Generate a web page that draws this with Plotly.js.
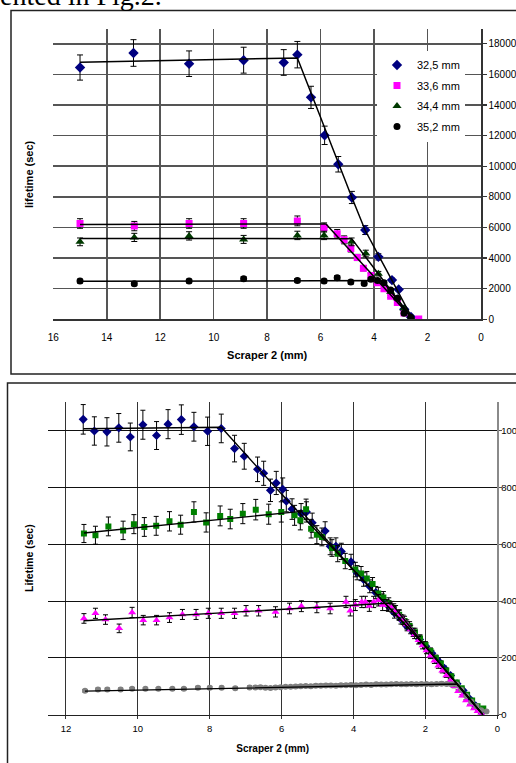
<!DOCTYPE html>
<html><head><meta charset="utf-8">
<script src="https://cdn.plot.ly/plotly-3.0.1.min.js"></script>
<style>html,body{margin:0;padding:0;background:#fff;}#chart{width:516px;height:763px;}</style>
</head><body><div id="chart"></div>
<script>
// ---------- Chart 1 (top) ----------
const legendNames = ['32,5 mm', '33,6 mm', '34,4 mm', '35,2 mm'];
const xTitle = 'Scraper 2 (mm)';
const yTitle1 = 'lifetime (sec)';
const yTitle2 = 'Lifetime (sec)';
const pageText = 'ented in Fig.2.';

const blue1X = [15, 13, 10.92, 8.88, 7.38, 6.87, 6.36, 5.85, 5.34, 4.83, 4.33, 3.84, 3.33, 3.08, 2.87, 2.62];
const blue1Y = [16450, 17400, 16700, 16930, 16780, 17290, 14500, 12020, 10130, 7960, 5830, 4080, 2560, 1950, 650, 150];
const pink1X = [15, 12.97, 10.92, 8.88, 6.87, 5.87, 5.38, 5.12, 4.87, 4.63, 4.40, 4.12, 3.88, 3.63, 3.38, 3.13, 2.88, 2.33];
const pink1Y = [6260, 6090, 6260, 6260, 6430, 6000, 5590, 5190, 4630, 4040, 3330, 2860, 2390, 2000, 1500, 1100, 410, 20];
const green1X = [15, 12.97, 10.92, 8.88, 6.87, 5.87, 4.84, 4.31, 3.84, 3.38, 3.13, 2.88, 2.60];
const green1Y = [5060, 5350, 5450, 5220, 5480, 5480, 5060, 4300, 2980, 1800, 1370, 700, 50];
const black1X = [15, 12.97, 10.92, 8.88, 6.87, 5.87, 5.38, 4.87, 4.37, 4.12, 3.87, 3.63, 3.38, 3.13, 2.88, 2.63];
const black1Y = [2500, 2320, 2500, 2650, 2540, 2500, 2720, 2430, 2340, 2610, 2540, 2390, 1910, 1370, 400, 130];

const fitBlue1X = [15, 6.87, 4.83, 4.33, 2.55];
const fitBlue1Y = [16800, 17080, 7960, 5800, 0];
const fitPink1X = [15, 5.80, 2.55];
const fitPink1Y = [6200, 6230, 0];
const fitGreen1X = [15, 4.84, 2.55];
const fitGreen1Y = [5280, 5270, 0];
const fitBlack1X = [15, 3.70, 2.55];
const fitBlack1Y = [2480, 2530, 0];

// ---------- Chart 2 (bottom) ----------
const blue2X = [11.52, 11.21, 10.86, 10.53, 10.21, 9.86, 9.48, 9.16, 8.79, 8.44, 8.06, 7.68, 7.31, 7.04, 6.67, 6.50, 6.31, 6.15, 5.97, 5.87, 5.71, 5.46, 5.31, 5.15, 4.79, 4.65, 4.49, 4.34, 4.07, 3.90, 3.72, 3.55, 3.38, 3.20, 3.03, 2.86, 2.68, 2.51, 2.34, 2.16, 1.99, 1.82, 1.64, 1.47, 1.30, 1.12, 0.95, 0.78, 0.60, 0.43];
const blue2Y = [1040, 999, 996, 1010, 978, 1021, 983, 1023, 1039, 1014, 998, 1008, 937, 910, 864, 850, 790, 816, 794, 752, 724, 708, 714, 676, 647, 593, 593, 575, 538, 500, 476, 452, 430, 405, 383, 358, 336, 311, 290, 265, 241, 216, 189, 163, 138, 109, 85, 57, 31, 7];
const green2X = [11.50, 11.18, 10.82, 10.41, 10.11, 9.82, 9.49, 9.12, 8.81, 8.44, 8.10, 7.71, 7.43, 7.08, 6.72, 6.36, 6.01, 5.64, 5.48, 5.32, 5.18, 5.02, 4.88, 4.60, 4.44, 4.23, 3.95, 3.79, 3.63, 3.47, 3.31, 3.17, 3.02, 2.88, 2.73, 2.58, 2.44, 2.29, 2.15, 2.00, 1.86, 1.71, 1.57, 1.42, 1.28, 1.13, 0.99, 0.84, 0.70, 0.55, 0.39];
const green2Y = [638, 632, 663, 649, 671, 661, 665, 681, 669, 714, 677, 700, 689, 708, 722, 706, 714, 702, 685, 723, 655, 634, 626, 587, 567, 541, 511, 497, 480, 460, 427, 413, 392, 372, 352, 330, 312, 290, 268, 245, 224, 200, 180, 156, 135, 113, 93, 70, 50, 30, 22];
const pink2X = [11.50, 11.18, 10.90, 10.52, 10.16, 9.85, 9.48, 9.12, 8.76, 8.38, 8.04, 7.68, 7.31, 6.99, 6.64, 6.17, 5.78, 5.45, 5.02, 4.65, 4.21, 4.09, 3.95, 3.77, 3.67, 3.56, 3.44, 3.31, 3.19, 3.07, 2.93, 2.83, 2.73, 2.62, 2.52, 2.41, 2.30, 2.19, 2.08, 1.97, 1.86, 1.75, 1.64, 1.53, 1.42, 1.31, 1.20, 1.09, 0.98, 0.87, 0.76, 0.65, 0.55, 0.45];
const pink2Y = [339, 357, 335, 304, 360, 333, 333, 342, 353, 353, 357, 357, 357, 366, 366, 362, 374, 382, 378, 374, 397, 366, 386, 397, 397, 383, 397, 403, 386, 386, 380, 366, 350, 334, 318, 300, 282, 262, 244, 226, 208, 190, 172, 155, 138, 120, 100, 83, 67, 50, 35, 22, 12, 5];
const gray2X = [11.47, 11.11, 10.85, 10.48, 10.16, 9.79, 9.43, 9.04, 8.72, 8.33, 8.00, 7.67, 7.29, 6.89, 6.73, 6.59, 6.45, 6.31, 6.17, 6.03, 5.89, 5.75, 5.61, 5.47, 5.33, 5.19, 5.05, 4.91, 4.77, 4.63, 4.49, 4.35, 4.21, 4.07, 3.93, 3.79, 3.65, 3.51, 3.37, 3.23, 3.09, 2.95, 2.81, 2.67, 2.53, 2.39, 2.25, 2.11, 1.97, 1.83, 1.69, 1.55, 1.41, 1.27, 1.13, 1.00, 0.86, 0.72, 0.58, 0.45, 0.30];
const gray2Y = [84, 89, 89, 89, 91, 91, 91, 91, 91, 95, 95, 95, 93, 96, 96, 97, 95, 94, 96, 97, 98, 98, 99, 100, 101, 100, 102, 102, 103, 103, 102, 104, 104, 105, 104, 105, 106, 105, 107, 106, 106, 107, 108, 107, 107, 108, 107, 108, 108, 107, 108, 109, 108, 107, 106, 88, 66, 46, 30, 16, 11];

const fitBlue2X = [11.52, 7.68, 5.99, 4.00, 2.06, 1.13, 0.40];
const fitBlue2Y = [1007, 1012, 775, 510, 250, 110, 0];
const fitGreen2X = [11.50, 5.45, 4.00, 2.06, 1.13, 0.40];
const fitGreen2Y = [640, 716, 510, 250, 110, 0];
const fitPink2X = [11.50, 2.95, 2.06, 1.13, 0.40];
const fitPink2Y = [331, 393, 250, 110, 0];
const fitGray2X = [11.47, 1.13, 0.40];
const fitGray2Y = [83, 108, 0];

// ---------- helpers ----------
const W = 516, H = 763;
const px = v => v / W;
const py = v => 1 - v / H;
const FONT = 'Liberation Sans, Arial, sans-serif';

function pts(x, y, name, color, symbol, size, xa, ya, show, cap) {
  return {
    type: 'scatter', mode: 'markers', x: x, y: y, name: name,
    xaxis: xa, yaxis: ya, showlegend: show, legendgroup: name,
    marker: {color: color, symbol: symbol, size: size, line: {width: 0}},
    error_y: {type: 'percent', value: 5, color: '#000', thickness: 1, width: cap},
    hoverinfo: 'skip'
  };
}
function fit(x, y, xa, ya, w) {
  return {
    type: 'scatter', mode: 'lines', x: x, y: y, xaxis: xa, yaxis: ya,
    showlegend: false, line: {color: '#000', width: w}, hoverinfo: 'skip'
  };
}

const data = [
  pts(blue1X, blue1Y, legendNames[0], '#000080', 'diamond', 8, 'x', 'y', true, 3),
  pts(pink1X, pink1Y, legendNames[1], '#FF00FF', 'square', 7, 'x', 'y', true, 3),
  pts(green1X, green1Y, legendNames[2], '#003A00', 'triangle-up', 8, 'x', 'y', true, 3),
  pts(black1X, black1Y, legendNames[3], '#000000', 'circle', 7, 'x', 'y', true, 3),
  fit(fitBlue1X, fitBlue1Y, 'x', 'y', 1.5),
  fit(fitPink1X, fitPink1Y, 'x', 'y', 1.5),
  fit(fitGreen1X, fitGreen1Y, 'x', 'y', 1.5),
  fit(fitBlack1X, fitBlack1Y, 'x', 'y', 1.5),

  pts(blue2X, blue2Y, 'b2', '#000080', 'diamond', 7, 'x2', 'y2', false, 2.5),
  pts(green2X, green2Y, 'g2', '#008000', 'square', 6, 'x2', 'y2', false, 2.5),
  pts(pink2X, pink2Y, 'p2', '#FF00FF', 'triangle-up', 7, 'x2', 'y2', false, 2.5),
  pts(gray2X, gray2Y, 'k2', '#808080', 'circle', 6, 'x2', 'y2', false, 2.5),
  fit(fitBlue2X, fitBlue2Y, 'x2', 'y2', 1.4),
  fit(fitGreen2X, fitGreen2Y, 'x2', 'y2', 1.4),
  fit(fitPink2X, fitPink2Y, 'x2', 'y2', 1.4),
  fit(fitGray2X, fitGray2Y, 'x2', 'y2', 1.4)
];

const layout = {
  width: W, height: H, autosize: false,
  margin: {l: 0, r: 0, t: 0, b: 0, pad: 0},
  paper_bgcolor: '#fff', plot_bgcolor: 'rgba(0,0,0,0)',
  font: {family: FONT, color: '#000', size: 10},
  showlegend: true,
  legend: {
    x: px(377), y: py(50.5), xanchor: 'left', yanchor: 'top',
    bgcolor: '#fff', borderwidth: 0, font: {family: FONT, size: 11, color: '#000'},
    itemwidth: 30, traceorder: 'grouped', tracegroupgap: 1.5
  },
  xaxis: {
    domain: [px(53.3), px(481)], anchor: 'y', range: [16, 0], autorange: false,
    tick0: 0, dtick: 2, showgrid: true, gridcolor: '#555', gridwidth: 1.6,
    zeroline: false, showline: true, linecolor: '#333', linewidth: 1.4,
    ticks: '', ticklabelstandoff: 8, tickfont: {family: FONT, size: 10},
    title: {text: xTitle, font: {family: FONT, size: 11, weight: 'bold'}, standoff: 9}
  },
  yaxis: {
    domain: [py(319.3), py(28.5)], anchor: 'x', range: [0, 19000], autorange: false,
    side: 'right', tick0: 0, dtick: 2000, tickformat: 'd',
    showgrid: true, gridcolor: '#555', gridwidth: 1.6, zeroline: false,
    showline: true, linecolor: '#333', linewidth: 1.5,
    ticks: 'outside', ticklen: 4, tickcolor: '#333', tickwidth: 1.2,
    tickfont: {family: FONT, size: 10}
  },
  xaxis2: {
    domain: [px(48), px(497.3)], anchor: 'y2', range: [12.5, 0], autorange: false,
    tickvals: [12, 10, 8, 6, 4, 2, 0], showgrid: true, gridcolor: '#333', gridwidth: 1,
    zeroline: false, showline: true, linecolor: '#222', linewidth: 1,
    ticks: 'outside', ticklen: 3, tickcolor: '#333', ticklabelstandoff: 2,
    tickfont: {family: FONT, size: 9.5},
    title: {text: xTitle, font: {family: FONT, size: 10, weight: 'bold'}, standoff: 11}
  },
  yaxis2: {
    domain: [py(714.7), py(402.3)], anchor: 'x2', range: [0, 1100], autorange: false,
    side: 'right', tick0: 0, dtick: 200, tickformat: 'd',
    showgrid: true, gridcolor: '#111', gridwidth: 1, zeroline: false,
    showline: true, linecolor: '#8a8a8a', linewidth: 2,
    ticks: 'outside', ticklen: 3, tickcolor: '#555', tickwidth: 1, ticklabelstandoff: -3,
    tickfont: {family: FONT, size: 9.5}
  },
  shapes: [
    {type: 'rect', xref: 'paper', yref: 'paper', x0: px(11), x1: 1.2, y0: py(374), y1: py(10.5),
     line: {color: '#222', width: 1.5}, fillcolor: 'rgba(0,0,0,0)', layer: 'above'},
    {type: 'rect', xref: 'paper', yref: 'paper', x0: px(7.5), x1: 1.2, y0: -0.2, y1: py(383),
     line: {color: '#222', width: 1.5}, fillcolor: 'rgba(0,0,0,0)', layer: 'above'}
  ],
  annotations: [
    {text: pageText, xref: 'paper', yref: 'paper', x: px(-2), y: py(-4.5), xanchor: 'left', yanchor: 'middle',
     showarrow: false, font: {family: 'Liberation Serif, Times New Roman, serif', size: 28, color: '#000'}},
    {text: '<b>' + yTitle1 + '</b>', xref: 'paper', yref: 'paper', x: px(29), y: py(174), textangle: -90,
     xanchor: 'center', yanchor: 'middle', showarrow: false, font: {family: FONT, size: 11}},
    {text: '<b>' + yTitle2 + '</b>', xref: 'paper', yref: 'paper', x: px(29), y: py(558), textangle: -90,
     xanchor: 'center', yanchor: 'middle', showarrow: false, font: {family: FONT, size: 10.5}}
  ]
};

Plotly.newPlot('chart', data, layout, {staticPlot: true, displayModeBar: false});
</script></body></html>
